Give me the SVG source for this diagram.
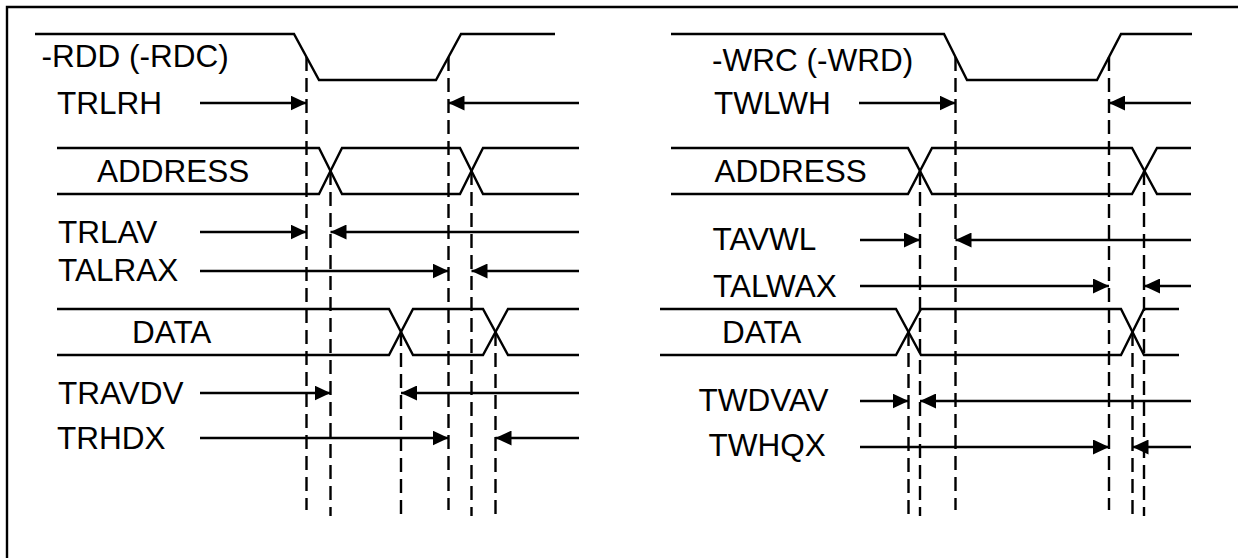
<svg xmlns="http://www.w3.org/2000/svg" width="1238" height="558" viewBox="0 0 1238 558">
<defs>
<marker id="ah" markerUnits="userSpaceOnUse" markerWidth="16" markerHeight="15" viewBox="0 0 16 15" refX="16" refY="7.5" orient="auto"><path d="M0,0 L16,7.5 L0,15 Z" fill="#000"/></marker>
<style>
.sig{fill:none;stroke:#000;stroke-width:2.4;stroke-linejoin:miter}
.dash{fill:none;stroke:#000;stroke-width:2.4;stroke-dasharray:14 7}
.arr{fill:none;stroke:#000;stroke-width:2.4;marker-end:url(#ah)}
text{font-family:"Liberation Sans",Arial,Helvetica,sans-serif;font-size:31.5px;fill:#000}
.frame{fill:none;stroke:#000;stroke-width:2.4}
</style>
</defs>
<rect width="1238" height="558" fill="#fff"/>
<path class="frame" d="M7,558 V7 H1238"/>

<g id="rdd">
<path class="sig" d="M35,34 H294 L319,80 H436 L461,34 H555"/>
<text x="41.5" y="67">-RDD (-RDC)</text>
</g>
<g id="address-read">
<path class="sig" d="M57,148 H319 L342,194 H460 L483,148 H579"/>
<path class="sig" d="M57,194 H319 L342,148 H460 L483,194 H579"/>
<text x="97" y="182">ADDRESS</text>
</g>
<g id="data-read">
<path class="sig" d="M57,309 H389 L413,355 H483 L508,309 H579"/>
<path class="sig" d="M57,355 H389 L413,309 H483 L508,355 H579"/>
<text x="132" y="343">DATA</text>
</g>
<g id="labels-read">
<text x="57" y="114">TRLRH</text>
<text x="58" y="243">TRLAV</text>
<text x="58" y="281">TALRAX</text>
<text x="58" y="404">TRAVDV</text>
<text x="57" y="449">TRHDX</text>
</g>

<g id="wrc">
<path class="sig" d="M671,34 H944 L967,80 H1097 L1121,34 H1192"/>
<text x="712" y="71">-WRC (-WRD)</text>
</g>
<g id="address-write">
<path class="sig" d="M671,148 H908 L932,194 H1132 L1157,148 H1191"/>
<path class="sig" d="M671,194 H908 L932,148 H1132 L1157,194 H1191"/>
<text x="714.5" y="182">ADDRESS</text>
</g>
<g id="data-write">
<path class="sig" d="M660,309 H896 L921,355 H1121 L1144,309 H1179"/>
<path class="sig" d="M660,355 H896 L921,309 H1121 L1144,355 H1179"/>
<text x="722" y="343">DATA</text>
</g>
<g id="labels-write">
<text x="714" y="114">TWLWH</text>
<text x="712.5" y="250">TAVWL</text>
<text x="713" y="297">TALWAX</text>
<text x="698.5" y="411">TWDVAV</text>
<text x="708.5" y="456">TWHQX</text>
</g>

<g id="connectors">
<g id="dashed">
<path class="dash" d="M306.5,57 V510 M448.5,57 V510 M330.5,171 V516 M471.5,171 V516 M401,332 V517 M495.5,332 V517"/>
<path class="dash" d="M955.5,57 V510 M1109,57 V510 M920,171 V516 M1144,171 V516 M908.5,332 V517 M1132.5,332 V517"/>
</g>
<g id="arrows">
<path class="arr" d="M200,103 H306.5"/><path class="arr" d="M579,103 H448.5"/>
<path class="arr" d="M200,232 H306.5"/><path class="arr" d="M579,232 H330.5"/>
<path class="arr" d="M200,271 H448.5"/><path class="arr" d="M579,271 H471.5"/>
<path class="arr" d="M200,393 H330.5"/><path class="arr" d="M579,393 H401"/>
<path class="arr" d="M200,438 H448.5"/><path class="arr" d="M579,438 H495.5"/>
<path class="arr" d="M859,103 H955.5"/><path class="arr" d="M1191,103 H1109"/>
<path class="arr" d="M860,240 H920"/><path class="arr" d="M1191,240 H955.5"/>
<path class="arr" d="M860,286 H1109"/><path class="arr" d="M1191,286 H1144"/>
<path class="arr" d="M860,401 H908.5"/><path class="arr" d="M1191,401 H920"/>
<path class="arr" d="M860,447 H1109"/><path class="arr" d="M1191,447 H1132.5"/>
</g>
</g>
</svg>
